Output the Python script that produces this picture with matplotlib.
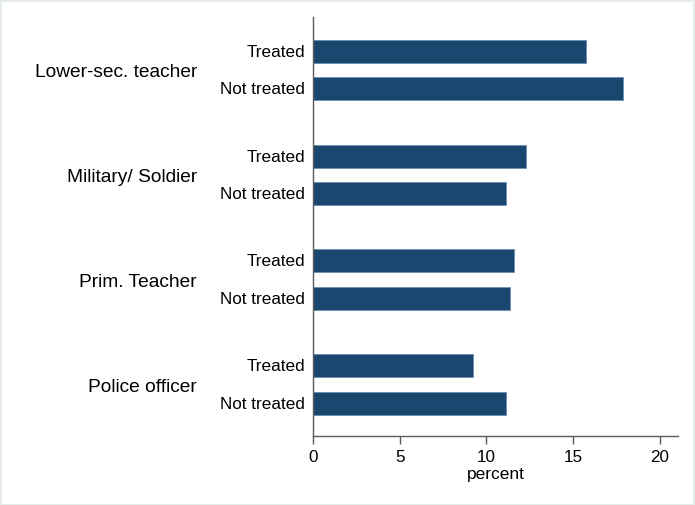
import matplotlib
matplotlib.use("Agg")
import matplotlib.pyplot as plt
from matplotlib.patches import Rectangle
from matplotlib.transforms import blended_transform_factory, offset_copy

plt.rcParams['font.family'] = ['Liberation Sans', 'DejaVu Sans']

# Occupations and shares (percent) by treatment status
occupations = ["Lower-sec. teacher", "Military/ Soldier", "Prim. Teacher", "Police officer"]
statuses = ["Treated", "Not treated"]
treated = [15.73, 12.31, 11.61, 9.24]
not_treated = [17.85, 11.12, 11.38, 11.14]
x_ticks = [0, 5, 10, 15, 20]
x_label = "percent"

bar_color = "#1a476f"
axis_color = "#5a5a5a"

fig = plt.figure(figsize=(6.95, 5.06), dpi=100)
W, H = 695, 506
left, right, top, bottom = 313, 678, 18, 437
ax = fig.add_axes([left / W, 1 - bottom / H, (right - left) / W, (bottom - top) / H])

group_gap = 2.8
bar_h = 0.613
positions, values, labels = [], [], []
for g, occ in enumerate(occupations):
    base = g * group_gap
    positions += [base, base + 1]
    values += [treated[g], not_treated[g]]
    labels += statuses

ax.barh(positions, values, height=bar_h, color=bar_color,
        edgecolor="#6f8fae", linewidth=0.6)

ax.set_xlim(0, 21.05)
ax.set_ylim(positions[-1] + 0.875, positions[0] - 0.912)
ax.set_xticks(x_ticks)
ax.set_xticklabels([str(t) for t in x_ticks], fontsize=12.3)
ax.set_yticks([])
ax.set_xlabel(x_label, fontsize=12.5, labelpad=1)

for side in ["top", "right"]:
    ax.spines[side].set_visible(False)
for side in ["left", "bottom"]:
    ax.spines[side].set_color(axis_color)
    ax.spines[side].set_linewidth(1.0)
ax.tick_params(axis="x", length=6, width=1.0, color=axis_color, pad=3.5)

trans = blended_transform_factory(ax.transAxes, ax.transData)
for p, lab in zip(positions, labels):
    ax.text(-8 / (right - left), p, lab, transform=trans, ha="right",
            va="center", fontsize=12.3)
group_trans = offset_copy(trans, fig=fig, x=0, y=-1.5, units="dots")
for g, occ in enumerate(occupations):
    ax.text(-116 / (right - left), g * group_gap + 0.5, occ, transform=group_trans,
            ha="right", va="center", fontsize=13.8)

fig.patches.append(Rectangle((0.5 / W, 0.5 / H), 1 - 2 / W, 1 - 2 / H,
                             transform=fig.transFigure, fill=False,
                             edgecolor="#e4ecec", linewidth=1.5))

fig.savefig("out.png", dpi=100)
